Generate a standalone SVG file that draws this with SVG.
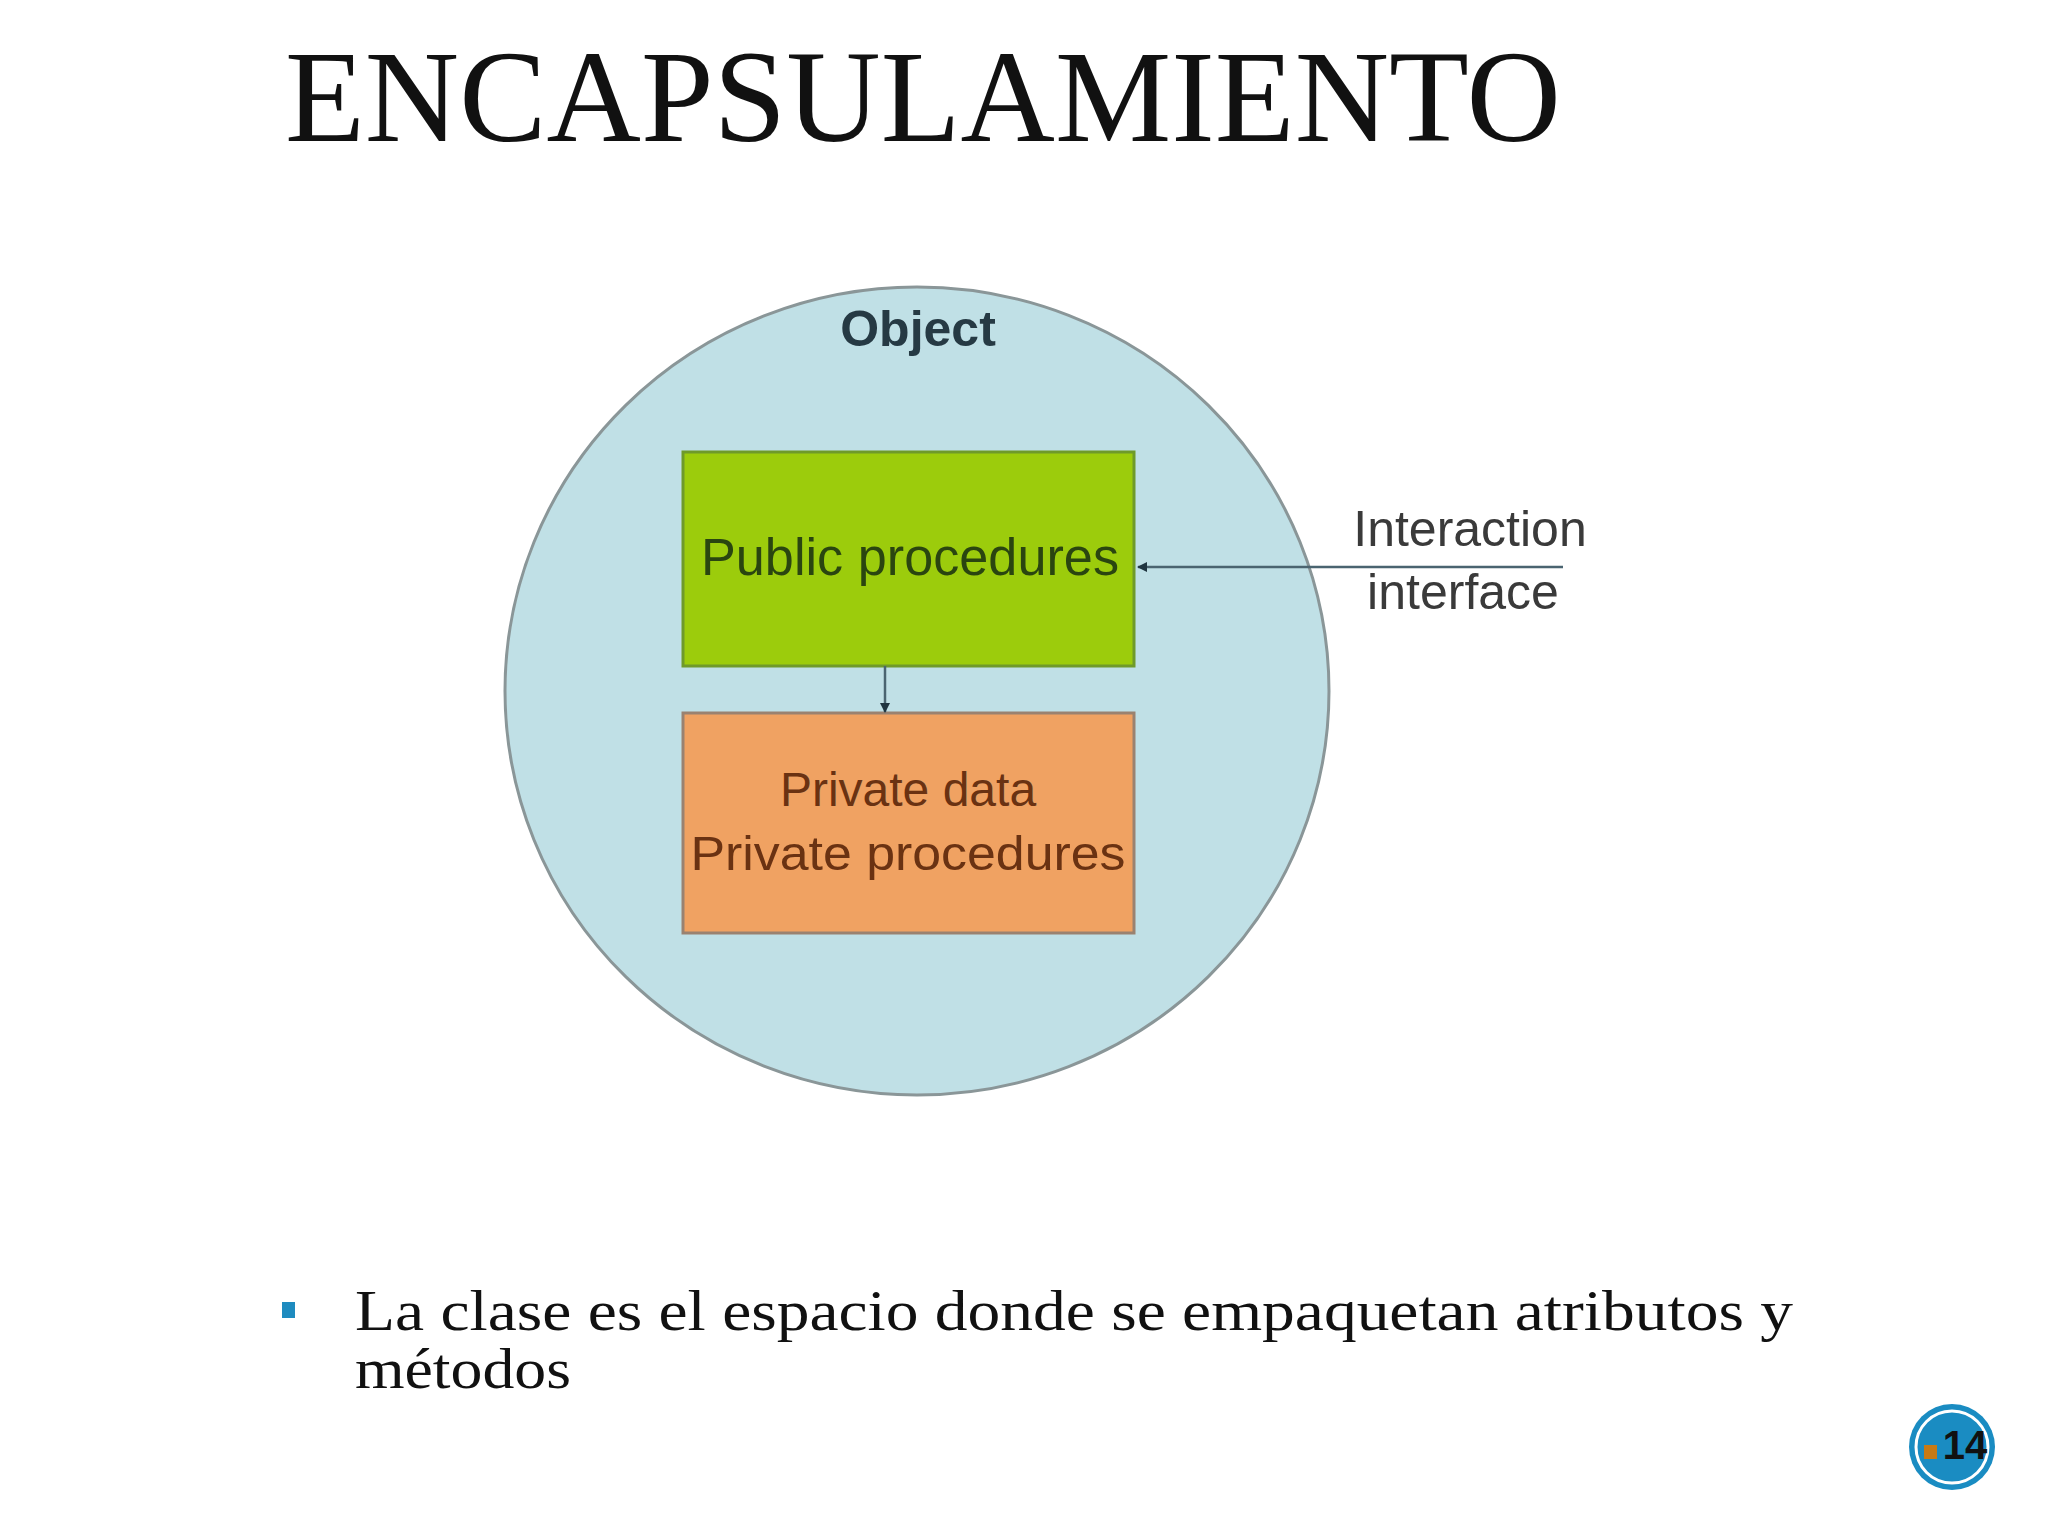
<svg xmlns="http://www.w3.org/2000/svg" width="2048" height="1536" viewBox="0 0 2048 1536">
<defs>
<style>
.title{font-family:"Liberation Serif",serif;font-size:132px;fill:#111;}
.lbl{font-family:"Liberation Sans",Arial,sans-serif;text-anchor:middle;}
.body{font-family:"Liberation Serif",serif;font-size:56px;fill:#111;}
.conn{stroke:#4a6470;stroke-width:2.5;fill:none;}
</style>
<marker id="ah" viewBox="0 0 10 10" refX="9" refY="5" markerWidth="4" markerHeight="4" orient="auto-start-reverse">
<path d="M0,0 L10,5 L0,10 z" fill="#1f3540"/>
</marker>
</defs>
<rect width="2048" height="1536" fill="#ffffff"/>
<text class="title" x="285" y="141" textLength="1276" lengthAdjust="spacingAndGlyphs">ENCAPSULAMIENTO</text>

<g id="object">
<ellipse cx="917" cy="691" rx="412" ry="404" fill="#c0e0e6" stroke="#8a9698" stroke-width="3"/>
<text class="lbl" x="918" y="346" font-size="50" font-weight="bold" fill="#263a44">Object</text>
</g>

<g id="public">
<rect x="683" y="452" width="451" height="214" fill="#9ccc0c" stroke="#6f9a2a" stroke-width="3"/>
<text class="lbl" x="910" y="575" font-size="51" fill="#2a4510" textLength="418" lengthAdjust="spacingAndGlyphs">Public procedures</text>
</g>

<g id="private">
<rect x="683" y="713" width="451" height="220" fill="#f0a262" stroke="#9a8270" stroke-width="3"/>
<text class="lbl" x="908" y="806" font-size="48" fill="#6a3212">Private data</text>
<text class="lbl" x="908" y="870" font-size="48" fill="#6a3212" textLength="435" lengthAdjust="spacingAndGlyphs">Private procedures</text>
</g>

<g id="interface">
<text class="lbl" x="1470" y="546" font-size="50" fill="#3a3a3a">Interaction</text>
<text class="lbl" x="1463" y="609" font-size="50" fill="#3a3a3a">interface</text>
</g>

<g id="connectors">
<line class="conn" x1="1563" y1="567" x2="1138" y2="567" marker-end="url(#ah)"/>
<line class="conn" x1="885" y1="666" x2="885" y2="712" marker-end="url(#ah)"/>
</g>

<g id="bullet">
<rect x="282" y="1302" width="13" height="16" fill="#1e8bbf"/>
<text class="body" x="355" y="1330" textLength="1438" lengthAdjust="spacingAndGlyphs">La clase es el espacio donde se empaquetan atributos y</text>
<text class="body" x="355" y="1388" textLength="216" lengthAdjust="spacingAndGlyphs">métodos</text>
</g>

<g id="pagenum">
<circle cx="1952" cy="1447" r="43" fill="#1a8cc2"/>
<circle cx="1952" cy="1447" r="36" fill="none" stroke="#ffffff" stroke-width="3"/>
<rect x="1924" y="1445" width="13" height="14" fill="#c87a14"/>
<text x="1965" y="1459" font-family="Liberation Sans,Arial,sans-serif" font-weight="bold" font-size="40" fill="#111" text-anchor="middle">14</text>
</g>
</svg>
